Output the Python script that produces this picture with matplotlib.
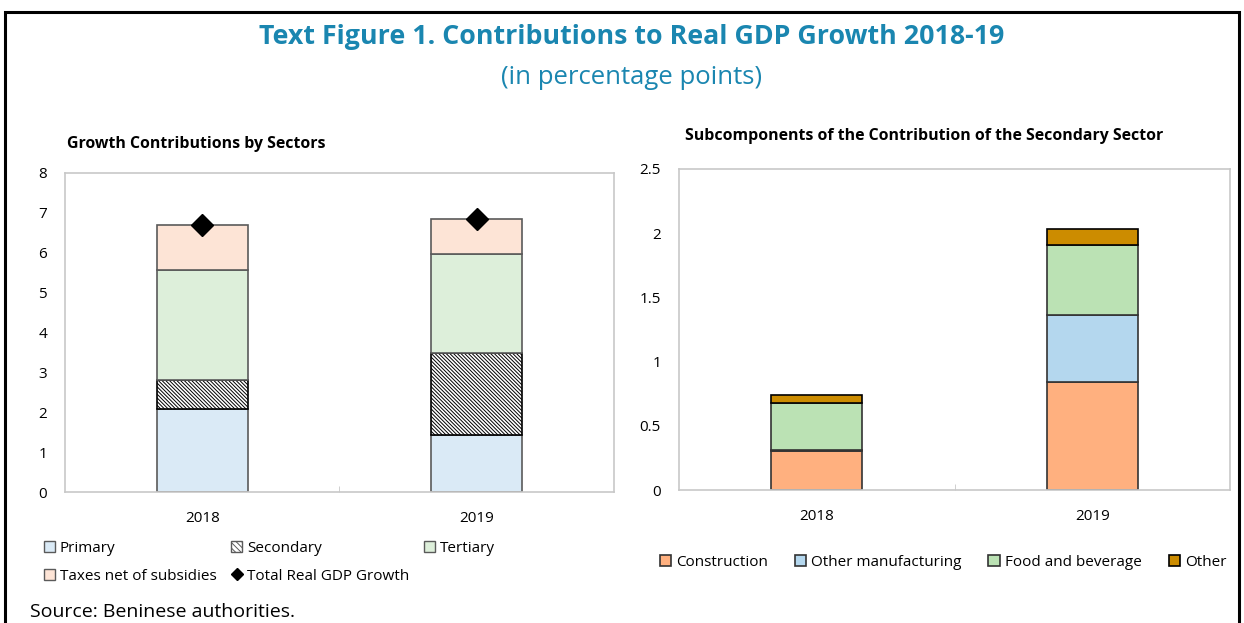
import numpy as np
import matplotlib.pyplot as plt
from matplotlib.patches import Patch, Rectangle
from matplotlib.lines import Line2D

plt.rcParams['font.family'] = ['Open Sans', 'DejaVu Sans']

years = ['2018', '2019']

# left panel: growth contributions by sectors
primary = [2.07, 1.44]
secondary = [0.73, 2.04]
tertiary = [2.77, 2.49]
taxes = [1.13, 0.87]
total_gdp = [6.70, 6.84]

# right panel: subcomponents of the secondary sector
construction = [0.30, 0.84]
other_manuf = [0.01, 0.525]
food_bev = [0.37, 0.54]
other = [0.06, 0.13]

W, H = 1244, 623
fig = plt.figure(figsize=(W / 100, H / 100), dpi=100)

def box(x0, y0, x1, y1):
    # pixel box -> figure fraction
    return [x0 / W, 1 - y1 / H, (x1 - x0) / W, (y1 - y0) / H]

# outer frame (bottom cut off)
fig.add_artist(Rectangle((5 / W, -0.2), (1239 - 5) / W, 1.2 - 12 / H,
                         transform=fig.transFigure, fill=False,
                         edgecolor='black', linewidth=2.2))

fig.text(632 / W, 1 - 37 / H, 'Text Figure 1. Contributions to Real GDP Growth 2018-19',
         ha='center', va='center', fontsize=19.3, fontweight='bold', color='#1A86B0')
fig.text(632 / W, 1 - 77 / H, '(in percentage points)',
         ha='center', va='center', fontsize=18.5, color='#1A86B0')

spine_col = '#C8C8C8'
x = np.arange(len(years))
bw = 0.33

def style_axes(ax, ymax, step):
    ax.set_xlim(-0.5, 1.5)
    ax.set_ylim(0, ymax)
    ax.set_yticks(np.arange(0, ymax + step / 2, step))
    ax.set_xticks(x)
    ax.set_xticklabels(years)
    ax.set_xticks([0.5], minor=True)
    ax.tick_params(axis='x', which='major', length=0, pad=14, labelsize=11)
    ax.tick_params(axis='x', which='minor', length=4, direction='in', color=spine_col)
    ax.tick_params(axis='y', length=0, pad=13, labelsize=11)
    for s in ax.spines.values():
        s.set_color(spine_col)
        s.set_linewidth(1.2)

# ---- left panel
ax1 = fig.add_axes(box(65, 173, 614, 492))
edge = '#5A5A5A'
plt.rcParams['hatch.color'] = '#222222'
plt.rcParams['hatch.linewidth'] = 0.7
b = np.zeros(2)
ax1.bar(x, primary, bw, bottom=b, color='#DAEAF6', edgecolor=edge, linewidth=1.2, label='Primary')
b += primary
ax1.bar(x, secondary, bw, bottom=b, color='white', edgecolor='black', hatch='\\' * 9,
        linewidth=1.2, label='Secondary')
b += secondary
ax1.bar(x, tertiary, bw, bottom=b, color='#DDEFDA', edgecolor=edge, linewidth=1.2, label='Tertiary')
b += tertiary
ax1.bar(x, taxes, bw, bottom=b, color='#FDE4D6', edgecolor=edge, linewidth=1.2,
        label='Taxes net of subsidies')
ax1.plot(x, total_gdp, linestyle='none', marker='D', markersize=11, color='black',
         label='Total Real GDP Growth', zorder=5)
style_axes(ax1, 8, 1)
fig.text(67 / W, 1 - 144 / H, 'Growth Contributions by Sectors', ha='left', va='center',
         fontsize=11.4, fontweight='bold')

h1 = [Patch(facecolor='#DAEAF6', edgecolor=edge, label='Primary'),
      Patch(facecolor='#FDE4D6', edgecolor=edge, label='Taxes net of subsidies'),
      Patch(facecolor='white', edgecolor=edge, hatch='\\' * 6, label='Secondary'),
      Line2D([], [], linestyle='none', marker='D', markersize=6, color='black',
             label='Total Real GDP Growth'),
      Patch(facecolor='#DDEFDA', edgecolor=edge, label='Tertiary')]
fig.legend(handles=h1, ncol=3, loc='upper left', bbox_to_anchor=(36 / W, 1 - 533 / H),
           frameon=False, fontsize=11, handlelength=0.75, handleheight=0.75,
           handletextpad=0.3, columnspacing=0.95, labelspacing=0.85, borderpad=0)

# ---- right panel
ax2 = fig.add_axes(box(679, 169, 1230, 490))
edge2 = '#333333'
b = np.zeros(2)
ax2.bar(x, construction, bw, bottom=b, color='#FFB07F', edgecolor=edge2, linewidth=1.2,
        label='Construction')
b += construction
ax2.bar(x, other_manuf, bw, bottom=b, color='#B4D7EE', edgecolor=edge2, linewidth=1.2,
        label='Other manufacturing')
b += other_manuf
ax2.bar(x, food_bev, bw, bottom=b, color='#BBE2B4', edgecolor=edge2, linewidth=1.2,
        label='Food and beverage')
b += food_bev
ax2.bar(x, other, bw, bottom=b, color='#CC8C00', edgecolor='black', linewidth=1.2, label='Other')
style_axes(ax2, 2.5, 0.5)
ax2.set_yticklabels(['0', '0.5', '1', '1.5', '2', '2.5'])
ax2.tick_params(axis='y', pad=13)
fig.text(685 / W, 1 - 136 / H, 'Subcomponents of the Contribution of the Secondary Sector',
         ha='left', va='center', fontsize=11.4, fontweight='bold')
fig.legend(*ax2.get_legend_handles_labels(), ncol=4, loc='center left',
           bbox_to_anchor=(652 / W, 1 - 562 / H), frameon=False, fontsize=11,
           handlelength=0.75, handleheight=0.75, handletextpad=0.3, columnspacing=1.78,
           borderpad=0)

fig.text(30 / W, 1 - 612 / H, 'Source: Beninese authorities.', ha='left', va='center',
         fontsize=14)

fig.savefig('out.png', dpi=100)
